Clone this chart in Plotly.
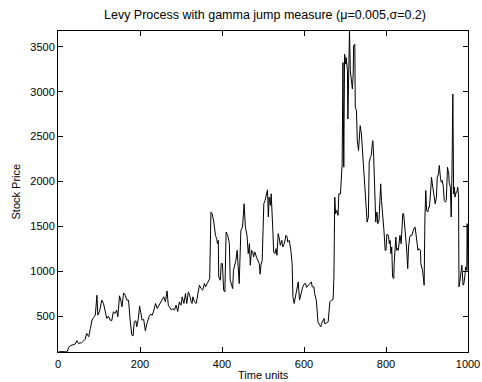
import plotly.graph_objects as go

time_units = [0, 10, 22, 26, 30, 36, 42, 46, 50, 58, 66, 70, 75, 79, 83, 87, 91, 95, 97, 101,
              107, 111, 115, 119, 123, 127, 131, 135, 139, 143, 146, 150, 153, 156, 160, 164, 168, 172, 176, 180,
              183, 186, 190, 192, 196, 199, 202, 205, 209, 213, 217, 222, 226, 230, 234, 238, 242, 246, 250, 254,
              258, 262, 266, 269, 272, 277, 280, 284, 288, 292, 296, 300, 303, 307, 311, 314, 318, 321, 325, 327,
              329, 333, 337, 342, 345, 349, 353, 357, 360, 364, 368, 370, 373, 376, 380, 384, 387, 389, 391, 392,
              396, 398, 401, 404, 407, 410, 414, 418, 420, 424, 426, 428, 432, 434, 437, 440, 442, 446, 450, 454,
              457, 461, 464, 467, 469, 472, 475, 477, 480, 484, 487, 491, 493, 495, 498, 502, 505, 508, 511, 513,
              515, 518, 520, 524, 526, 529, 532, 534, 537, 540, 542, 546, 548, 552, 556, 559, 560, 564, 568, 571,
              573, 576, 580, 583, 586, 589, 593, 597, 601, 604, 606, 610, 614, 618, 620, 624, 626, 630, 632, 634,
              638, 641, 643, 646, 649, 650, 654, 659, 661, 663, 667, 671, 673, 675, 677, 680, 683, 685, 689, 691,
              693, 695, 697, 699, 702, 703, 706, 707, 709, 711, 713, 715, 718, 720, 721, 724, 725, 728, 730, 733,
              735, 737, 740, 742, 744, 746, 749, 751, 754, 757, 759, 762, 764, 767, 768, 770, 772, 773, 775, 776,
              778, 780, 783, 785, 787, 789, 791, 793, 795, 798, 800, 802, 806, 808, 810, 812, 814, 816, 819, 820,
              822, 824, 826, 828, 830, 833, 834, 837, 838, 841, 843, 845, 848, 850, 853, 855, 858, 860, 863, 865,
              868, 871, 873, 876, 878, 880, 884, 885, 889, 891, 893, 895, 897, 899, 902, 904, 906, 909, 911, 913,
              915, 918, 920, 923, 925, 928, 930, 933, 935, 937, 940, 942, 945, 947, 949, 950, 953, 954, 957, 959,
              961, 963, 965, 967, 968, 971, 973, 975, 977, 978, 980, 983, 985, 988, 990, 993, 994, 997, 998, 1000]

stock_price = [100, 105, 100, 150, 170, 180, 189, 226, 196, 204, 241, 307, 270, 363, 456, 485, 511, 733, 511, 548,
               678, 641, 567, 474, 500, 456, 448, 548, 530, 567, 493, 726, 678, 604, 759, 733, 678, 678, 456, 289,
               278, 437, 448, 381, 474, 611, 535, 456, 463, 337, 419, 493, 522, 511, 567, 641, 585, 622, 659, 678,
               715, 659, 781, 622, 604, 567, 585, 567, 622, 552, 659, 622, 715, 641, 752, 641, 770, 733, 659, 641,
               715, 659, 641, 752, 844, 807, 789, 863, 826, 863, 900, 919, 1659, 1641, 1548, 1400, 1363, 1307, 1344, 937,
               900, 1085, 1085, 789, 770, 1437, 1400, 1307, 900, 826, 807, 1011, 1085, 1122, 1233, 1011, 863, 1455, 1492, 1752,
               1492, 1400, 1196, 1307, 1067, 1233, 1215, 1159, 1215, 1159, 1122, 1085, 967, 1067, 1122, 1752, 1789, 1863, 1907, 1604,
               1826, 1733, 1863, 1455, 1215, 1196, 1252, 1178, 1419, 1363, 1289, 1344, 1270, 1307, 1400, 1381, 1326, 1344, 1233, 1085,
               715, 641, 733, 789, 881, 678, 752, 826, 860, 863, 819, 844, 863, 881, 826, 826, 752, 678, 567, 437,
               400, 381, 419, 456, 474, 419, 419, 437, 530, 659, 678, 685, 937, 1826, 1641, 1678, 1622, 1863, 1863, 2085,
               2196, 3326, 2159, 3419, 3307, 3381, 3233, 2696, 3567, 3677, 3233, 3159, 3030, 3196, 3511, 3530, 2826, 2789, 2455, 2344,
               2455, 2622, 2530, 2381, 2196, 2048, 1900, 1715, 1548, 1604, 2215, 2270, 2289, 2437, 2455, 2270, 1974, 1900, 1548, 1604,
               1659, 1530, 1567, 1789, 1974, 1789, 1696, 1530, 1455, 1233, 1233, 1411, 1400, 1307, 1344, 1196, 1270, 937, 919, 1085,
               1270, 1381, 1233, 1252, 1233, 1381, 1400, 1307, 1455, 1641, 1641, 1530, 1455, 1270, 1030, 1270, 1381, 1400, 1400, 1437,
               1474, 1492, 1419, 1252, 1233, 1252, 1233, 1085, 1011, 937, 844, 1604, 1900, 1678, 1659, 1715, 1715, 1900, 2048, 1974,
               1900, 1826, 1752, 1826, 2048, 2085, 2178, 2030, 1992, 2011, 1937, 1789, 1770, 1789, 2011, 2159, 2085, 1992, 1937, 1604,
               2122, 2974, 1863, 1937, 1826, 1881, 1881, 1937, 1826, 826, 881, 1048, 1067, 844, 863, 974, 1048, 1011, 1530, 1011]

x_ticks = [0, 200, 400, 600, 800, 1000]
y_ticks = [500, 1000, 1500, 2000, 2500, 3000, 3500]

title_text = "Levy Process with gamma jump measure (\u03bc=0.005,\u03c3=0.2)"
x_title = "Time units"
y_title = "Stock Price"

fig = go.Figure()
fig.add_trace(go.Scatter(x=time_units, y=stock_price, mode="lines",
                         line=dict(color="black", width=1), showlegend=False, hoverinfo="skip"))

font = dict(family="Liberation Sans, Arial, Helvetica, sans-serif", size=11, color="black")

fig.update_layout(
    width=482, height=382,
    margin=dict(l=58, r=14, t=31, b=30),
    paper_bgcolor="white", plot_bgcolor="white",
    font=font,
    title=dict(text=title_text, x=265 / 482, xanchor="center", xref="container",
               y=1 - 15 / 382, yanchor="middle", yref="container",
               font=dict(size=12.5)),
)
fig.update_xaxes(range=[0, 1000], tickvals=x_ticks, ticks="inside", ticklen=5, tickcolor="black",
                 showline=True, linecolor="black", linewidth=1, mirror="ticks", showgrid=False,
                 zeroline=False, automargin=False, tickfont=dict(size=11),
                 ticklabeloverflow="allow", ticklabelstandoff=2)
fig.update_yaxes(range=[min(stock_price), max(stock_price)], tickvals=y_ticks, ticks="inside", ticklen=5,
                 tickcolor="black", showline=True, linecolor="black", linewidth=1, mirror="ticks",
                 showgrid=False, zeroline=False, automargin=False, tickfont=dict(size=11),
                 ticklabeloverflow="allow")

fig.add_annotation(text=x_title, xref="paper", yref="paper", x=0.5, y=(352 - 375) / 321,
                   xanchor="center", yanchor="middle", showarrow=False, font=dict(size=11))
fig.add_annotation(text=y_title, xref="paper", yref="paper", x=(15 - 58) / 410, y=0.5,
                   xanchor="center", yanchor="middle", textangle=-90, showarrow=False,
                   font=dict(size=11))

fig.write_html("out.html", config={"displayModeBar": False},
               post_script="document.body.style.margin='0';document.body.style.overflow='hidden';")
